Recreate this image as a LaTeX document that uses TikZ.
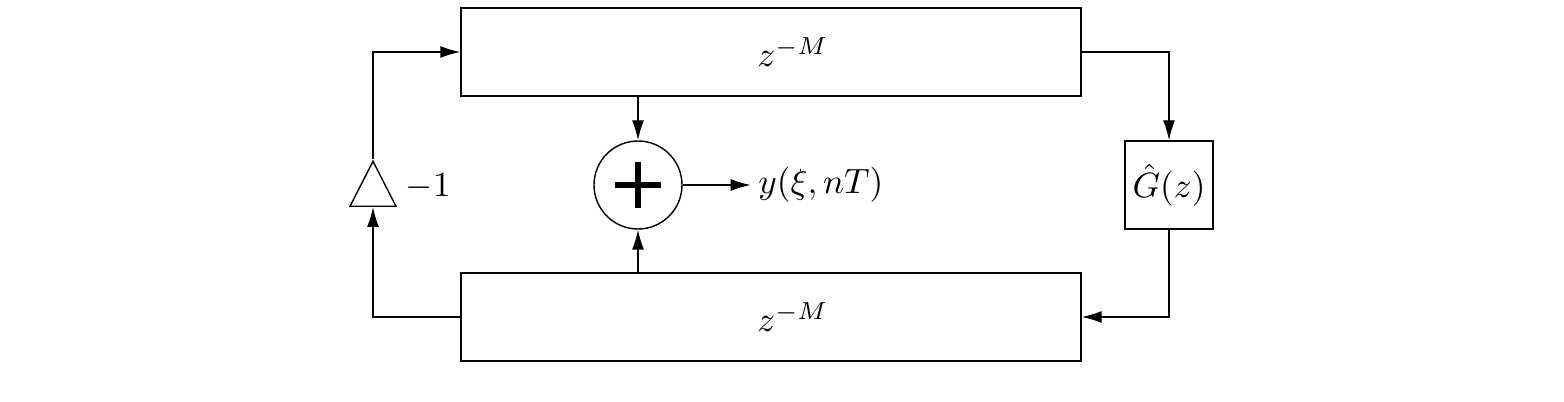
\documentclass[tikz,border=0pt]{standalone}
\usepackage{amsmath, amssymb}
\usepackage{tikz}
\usetikzlibrary{positioning, arrows.meta, shapes.geometric}
\tikzset{
  sig/.style={draw=black, line width=0.4pt},
  delay/.style={draw=black, line width=0.4pt, minimum width=6.2cm, minimum height=0.88cm, inner sep=0pt},
  filt/.style={draw=black, line width=0.4pt, minimum size=0.88cm, inner sep=0pt},
  adder/.style={draw=black, line width=0.4pt, circle, minimum size=0.88cm, inner sep=0pt},
  amp/.style={draw=black, line width=0.4pt, isosceles triangle, shape border rotate=90,
    isosceles triangle stretches, minimum width=0.46cm, minimum height=0.45cm, inner sep=0pt},
}

\begin{document}
\begin{tikzpicture}[>={Latex[length=2mm, width=1.2mm]}]
\useasboundingbox (0,0) rectangle (15.64,4.01);

\node[delay] (upper) at (7.71,3.49) {\hspace*{0.44cm}$z^{-M}$};
\node[delay] (lower) at (7.71,0.84) {\hspace*{0.44cm}$z^{-M}$};
\node[adder] (sum) at (6.38,2.16) {};
\node[filt] (ghat) at (11.69,2.16) {$\hat{G}(z)$};
\node[amp, anchor=south] (gain) at (3.73,1.94) {};
\node[anchor=west, inner sep=0pt] (gainlbl) at (4.05,2.14) {$-1$};
\node[right=0.68cm of sum, inner sep=2pt] (out) {$y(\xi,nT)$};

% plus sign
\draw[line width=1.5pt] ([xshift=-0.23cm]sum.center) -- ([xshift=0.23cm]sum.center);
\draw[line width=1.5pt] ([yshift=-0.23cm]sum.center) -- ([yshift=0.23cm]sum.center);

\draw[sig, ->] (lower.west) -| (gain.south);
\draw[sig, ->] (gain.north) |- (upper.west);
\draw[sig, ->] (upper.east) -| (ghat.north);
\draw[sig, ->] (ghat.south) |- (lower.east);
\draw[sig, ->] (upper.south -| sum) -- (sum.north);
\draw[sig, ->] (lower.north -| sum) -- (sum.south);
\draw[sig, ->] (sum.east) -- (out.west);

\end{tikzpicture}
\end{document}
